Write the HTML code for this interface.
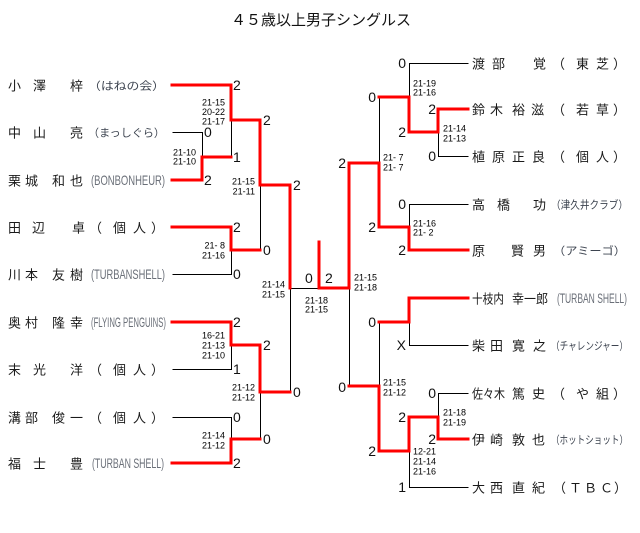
<!DOCTYPE html>
<html>
<head>
<meta charset="utf-8">
<style>
html,body{margin:0;padding:0;background:#fff;}
svg{display:block;}
.nm{font-family:"Liberation Sans","Noto Sans CJK JP",sans-serif;font-size:13px;fill:#1a1a1a;}
.af{font-family:"Liberation Sans","Noto Sans CJK JP",sans-serif;font-size:11px;fill:#3d4450;}
.al{font-family:"Liberation Sans","Noto Sans CJK JP",sans-serif;font-size:14px;fill:#6a6f78;}
.d{font-family:"Liberation Sans","Noto Sans CJK JP",sans-serif;font-size:14px;fill:#111;}
.s{font-family:"Liberation Sans",sans-serif;font-size:9px;fill:#000;}
.e{text-anchor:end;}
.k{fill:none;stroke:#000;stroke-width:1;shape-rendering:crispEdges;}
.r{fill:none;stroke:#ff0000;stroke-width:3;stroke-linejoin:miter;stroke-linecap:square;shape-rendering:crispEdges;}
</style>
</head>
<body>
<svg width="640" height="533" viewBox="0 0 640 533" xmlns="http://www.w3.org/2000/svg">
<rect width="640" height="533" fill="#fff"/>
<text x="321" y="25" text-anchor="middle" font-family="Liberation Sans, Noto Sans CJK JP, sans-serif" font-size="15" fill="#111">４５歳以上男子シングルス</text>

<!-- black lines -->
<g class="k" transform="translate(0.5,0.5)">
<path d="M172 132 H202 V157"/>
<path d="M231 120 V157"/>
<path d="M172 274 H231 V250"/>
<path d="M260 185 V250"/>
<path d="M172 369 H231 V345"/>
<path d="M172 417 H231 V439"/>
<path d="M260 392 V439"/>
<path d="M290 288 V392"/>
<path d="M290 288 H319"/>
<path d="M468 63 H409 V97"/>
<path d="M468 156 H438 V132"/>
<path d="M468 204 H409 V227"/>
<path d="M379 97 V163"/>
<path d="M468 345 H409 V322"/>
<path d="M468 393 H438 V417"/>
<path d="M468 487 H409 V451"/>
<path d="M379 322 V386"/>
<path d="M349 288 V386"/>
</g>

<!-- red lines -->
<g class="r">
<path d="M172 85 H231 V120 H260 V185 H290 V288"/>
<path d="M172 180 H202 V157 H231"/>
<path d="M172 227 H231 V250 H260"/>
<path d="M172 322 H231 V345 H260 V392 H290"/>
<path d="M172 463 H231 V439 H260"/>
<path d="M319 242 V288 H349"/>
<path d="M468 250 H409 V227 H379 V163 H349 V288"/>
<path d="M468 109 H438 V132 H409 V97 H379"/>
<path d="M468 298 H409 V322 H379"/>
<path d="M468 439 H438 V417 H409 V451 H379 V386 H349"/>
</g>

<!-- left names -->
<text class="nm" x="8 33 70" y="90.5">小澤梓</text>
<text class="af" x="88" y="89.5" textLength="77" lengthAdjust="spacingAndGlyphs">（はねの会）</text>
<text class="nm" x="8 33 70" y="137.5">中山亮</text>
<text class="af" x="88" y="136.5" textLength="77" lengthAdjust="spacingAndGlyphs">（まっしぐら）</text>
<text class="nm" x="8 25 52 70" y="185.5">栗城和也</text>
<text class="al" x="91" y="185" textLength="74" lengthAdjust="spacingAndGlyphs">(BONBONHEUR)</text>
<text class="nm" x="8 32 72" y="232.5">田辺卓</text>
<text class="nm" x="89 113 133 151" y="232.5">（個人）</text>
<text class="nm" x="8 25 52 70" y="279.5">川本友樹</text>
<text class="al" x="91" y="279" textLength="74" lengthAdjust="spacingAndGlyphs">(TURBANSHELL)</text>
<text class="nm" x="8 25 52 70" y="327.5">奥村隆幸</text>
<text class="al" x="91" y="327" textLength="75" lengthAdjust="spacingAndGlyphs">(FLYING PENGUINS)</text>
<text class="nm" x="8 33 70" y="374.5">末光洋</text>
<text class="nm" x="89 113 133 151" y="374.5">（個人）</text>
<text class="nm" x="8 25 52 70" y="422.5">溝部俊一</text>
<text class="nm" x="89 113 133 151" y="422.5">（個人）</text>
<text class="nm" x="8 33 70" y="468.5">福士豊</text>
<text class="al" x="92" y="468" textLength="72" lengthAdjust="spacingAndGlyphs">(TURBAN SHELL)</text>

<!-- right names -->
<text class="nm" x="472 492 533" y="68.5">渡部覚</text>
<text class="nm" x="552 576 596 613" y="68.5">（東芝）</text>
<text class="nm" x="472 490 512 531" y="114.5">鈴木裕滋</text>
<text class="nm" x="552 576 596 613" y="114.5">（若草）</text>
<text class="nm" x="472 492 512 532" y="161.5">植原正良</text>
<text class="nm" x="552 576 596 613" y="161.5">（個人）</text>
<text class="nm" x="472 497 533" y="209.5">高橋功</text>
<text class="af" x="551" y="208.5" textLength="77" lengthAdjust="spacingAndGlyphs">（津久井クラブ）</text>
<text class="nm" x="472 511 533" y="255.5">原賢男</text>
<text class="af" x="553" y="254.5" textLength="73" lengthAdjust="spacingAndGlyphs">（アミーゴ）</text>
<text class="nm" x="472" y="303.5" textLength="32" lengthAdjust="spacingAndGlyphs">十枝内</text>
<text class="nm" x="512" y="303.5" textLength="36" lengthAdjust="spacingAndGlyphs">幸一郎</text>
<text class="al" x="557" y="303" textLength="70" lengthAdjust="spacingAndGlyphs">(TURBAN SHELL)</text>
<text class="nm" x="472 490 512 533" y="350.5">柴田寛之</text>
<text class="af" x="551" y="349.5" textLength="77" lengthAdjust="spacingAndGlyphs">（チャレンジャー）</text>
<text class="nm" x="472" y="398.5" textLength="33" lengthAdjust="spacingAndGlyphs">佐々木</text>
<text class="nm" x="512 532" y="398.5">篤史</text>
<text class="nm" x="552 576 596 613" y="398.5">（や組）</text>
<text class="nm" x="472 490 512 532" y="444.5">伊崎敦也</text>
<text class="af" x="551" y="443.5" textLength="77" lengthAdjust="spacingAndGlyphs">（ホットショット）</text>
<text class="nm" x="472 490 512 532" y="492.5">大西直紀</text>
<text class="nm" x="553 569 584 600 614" y="492.5">（ＴＢＣ）</text>

<!-- left game scores -->
<text class="d" x="233" y="90">2</text>
<text class="d" x="204" y="137">0</text>
<text class="d" x="204" y="185">2</text>
<text class="d" x="233" y="162">1</text>
<text class="d" x="263" y="125">2</text>
<text class="d" x="233" y="232">2</text>
<text class="d" x="233" y="279">0</text>
<text class="d" x="263" y="255">0</text>
<text class="d" x="293" y="190">2</text>
<text class="d" x="233" y="327">2</text>
<text class="d" x="233" y="374">1</text>
<text class="d" x="263" y="350">2</text>
<text class="d" x="233" y="422">0</text>
<text class="d" x="233" y="468">2</text>
<text class="d" x="263" y="444">0</text>
<text class="d" x="293" y="397">0</text>
<text class="d" x="305" y="283">0</text>
<text class="d" x="325" y="283">2</text>

<!-- right game scores -->
<text class="d e" x="406" y="68">0</text>
<text class="d e" x="436" y="114">2</text>
<text class="d e" x="436" y="161">0</text>
<text class="d e" x="406" y="137">2</text>
<text class="d e" x="376" y="102">0</text>
<text class="d e" x="406" y="209">0</text>
<text class="d e" x="406" y="255">2</text>
<text class="d e" x="376" y="232">2</text>
<text class="d e" x="346" y="168">2</text>
<text class="d e" x="406" y="350">X</text>
<text class="d e" x="376" y="327">0</text>
<text class="d e" x="436" y="398">0</text>
<text class="d e" x="436" y="444">2</text>
<text class="d e" x="406" y="422">2</text>
<text class="d e" x="406" y="492">1</text>
<text class="d e" x="376" y="456">2</text>
<text class="d e" x="346" y="392">0</text>

<!-- left set scores -->
<text class="s e" x="225" y="105.3">21-15</text>
<text class="s e" x="225" y="114.8">20-22</text>
<text class="s e" x="225" y="124.3">21-17</text>
<text class="s e" x="196" y="155.3">21-10</text>
<text class="s e" x="196" y="164.3">21-10</text>
<text class="s e" x="255" y="184.3">21-15</text>
<text class="s e" x="255" y="194.3">21-11</text>
<text class="s e" x="225" y="248.3">21- 8</text>
<text class="s e" x="225" y="258.3">21-16</text>
<text class="s e" x="285" y="287.3">21-14</text>
<text class="s e" x="285" y="297.3">21-15</text>
<text class="s" x="305" y="303.3">21-18</text>
<text class="s" x="305" y="312.3">21-15</text>
<text class="s e" x="225" y="338.3">16-21</text>
<text class="s e" x="225" y="348.3">21-13</text>
<text class="s e" x="225" y="358.3">21-10</text>
<text class="s e" x="255" y="390.3">21-12</text>
<text class="s e" x="255" y="400.3">21-12</text>
<text class="s e" x="225" y="438.3">21-14</text>
<text class="s e" x="225" y="448.3">21-12</text>

<!-- right set scores -->
<text class="s" x="413" y="86.3">21-19</text>
<text class="s" x="413" y="95.3">21-16</text>
<text class="s" x="443" y="131.3">21-14</text>
<text class="s" x="443" y="141.3">21-13</text>
<text class="s" x="383" y="160.3">21- 7</text>
<text class="s" x="383" y="170.3">21- 7</text>
<text class="s" x="413" y="226.3">21-16</text>
<text class="s" x="413" y="235.3">21- 2</text>
<text class="s" x="354" y="280.3">21-15</text>
<text class="s" x="354" y="290.3">21-18</text>
<text class="s" x="383" y="385.3">21-15</text>
<text class="s" x="383" y="395.3">21-12</text>
<text class="s" x="443" y="415.3">21-18</text>
<text class="s" x="443" y="425.3">21-19</text>
<text class="s" x="413" y="454.3">12-21</text>
<text class="s" x="413" y="464.3">21-14</text>
<text class="s" x="413" y="474.3">21-16</text>
</svg>
</body>
</html>
